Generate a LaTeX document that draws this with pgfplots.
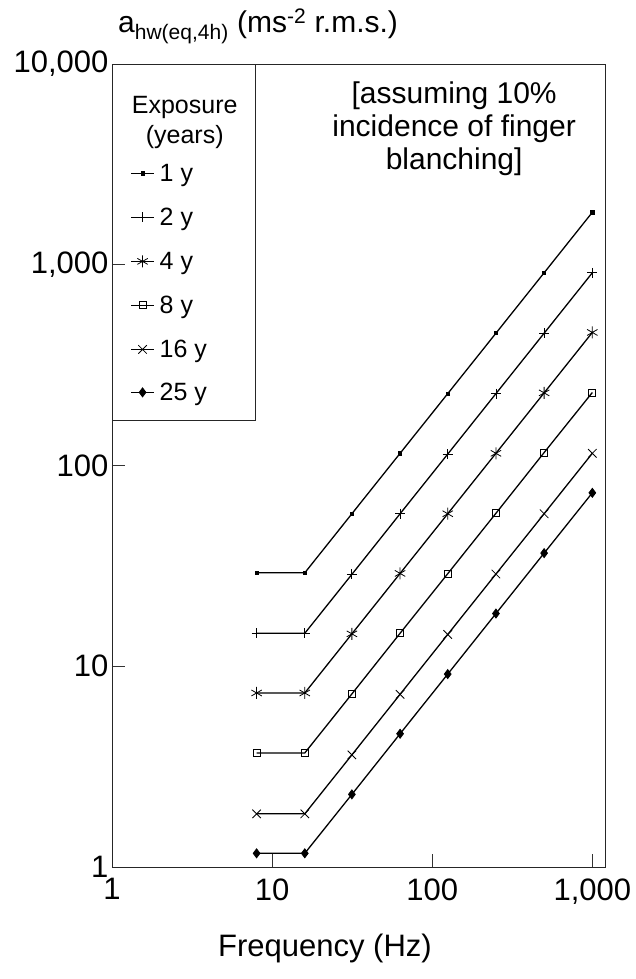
\documentclass[border=0pt]{standalone}
\usepackage{fontspec}
\setmainfont{Liberation Sans}
\usepackage{pgfplots}
\pgfplotsset{compat=1.18}
\begin{document}
\begin{tikzpicture}
\path[use as bounding box] (0,0) rectangle (635pt,979pt);
\begin{axis}[
  at={(112pt,112pt)}, anchor=south west,
  scale only axis, width=493pt, height=803pt,
  xmode=log, ymode=log,
  xmin=1, xmax=1200, ymin=1, ymax=10000,
  xtick={1,10,100,1000}, xticklabels={1,10,100,{1,000}},
  ytick={1,10,100,1000,10000}, yticklabels={1,10,100,{1,000},{10,000}},
  xminorticks=false, yminorticks=false,
  xtick pos=bottom, ytick pos=left,
  xtick align=inside, ytick align=inside, major tick length=13pt,
  major tick style={black!80, line width=0.9pt},
  axis line style={line width=0.8pt, black!85},
  tick label style={font=\fontsize{31}{31}\selectfont},
  xticklabel style={yshift=-8pt},
  clip=false,
  legend image code/.code={\draw[yshift=8pt,mark repeat=2,mark phase=2] plot coordinates {(0pt,0pt) (11.5pt,0pt) (23pt,0pt)};},
  legend style={at={(rel axis cs:0,1)}, anchor=north west, draw=black!85, fill=none, line width=0.8pt,
    font=\fontsize{25}{28}\selectfont, row sep=0pt, inner xsep=18pt, inner ysep=20pt,
    nodes={inner ysep=0pt, inner xsep=2pt, text depth=0pt},
    cells={anchor=base west},
    /tikz/every odd column/.append style={column sep=3pt}},
  every axis plot/.append style={line width=1.3pt, black, mark options={line width=0.8pt, solid}},
]
\addlegendimage{empty legend}
\addlegendentry{\rule{0pt}{29pt}\makebox[76pt][l]{\hspace*{-29pt}\makebox[108pt][c]{Exposure}}}
\addlegendimage{empty legend}
\addlegendentry{\rule{0pt}{30pt}\makebox[76pt][l]{\hspace*{-29pt}\makebox[108pt][c]{(years)}}}

\addplot[mark=square*, mark size=1.6pt] coordinates {
(8,29.2) (16,29.2) (31.5,57.5) (63,115) (125,228) (250,456) (500,912) (1000,1825)};
\addlegendentry{\rule{0pt}{38pt}1 y}
\addplot[mark=+, mark size=5pt] coordinates {
(8,14.6) (16,14.6) (31.5,28.7) (63,57.5) (125,114) (250,228) (500,456) (1000,912)};
\addlegendentry{\rule{0pt}{44pt}2 y}
\addplot[mark=asterisk, mark size=6pt] coordinates {
(8,7.36) (16,7.36) (31.5,14.5) (63,29.0) (125,57.5) (250,115) (500,230) (1000,460)};
\addlegendentry{\rule{0pt}{44pt}4 y}
\addplot[mark=square, mark size=3.5pt] coordinates {
(8,3.70) (16,3.70) (31.5,7.28) (63,14.6) (125,28.9) (250,57.8) (500,116) (1000,231)};
\addlegendentry{\rule{0pt}{44pt}8 y}
\addplot[mark=x, mark size=6pt] coordinates {
(8,1.84) (16,1.84) (31.5,3.62) (63,7.25) (125,14.4) (250,28.8) (500,57.5) (1000,115)};
\addlegendentry{\rule{0pt}{44pt}16 y}
\addplot[mark=diamond*, mark size=4.5pt] coordinates {
(8,1.17) (16,1.17) (31.5,2.30) (63,4.61) (125,9.14) (250,18.3) (500,36.6) (1000,73.1)};
\addlegendentry{\rule{0pt}{43pt}25 y}

\node[anchor=north, inner sep=0pt, align=center, font=\fontsize{30}{33}\selectfont]
  at (rel axis cs:0.694,0.9776) {[assuming 10\%\\incidence of finger\\blanching]};
\node[anchor=base west, inner sep=0pt, font=\fontsize{30}{30}\selectfont]
  at (rel axis cs:0,1) [xshift=6pt, yshift=31pt] {a\textsubscript{hw(eq,4h)} (ms\textsuperscript{-2} r.m.s.)};
\node[font=\fontsize{31}{31}\selectfont] at (rel axis cs:0.432,0) [yshift=-81pt] {Frequency (Hz)};
\end{axis}
\end{tikzpicture}
\end{document}
